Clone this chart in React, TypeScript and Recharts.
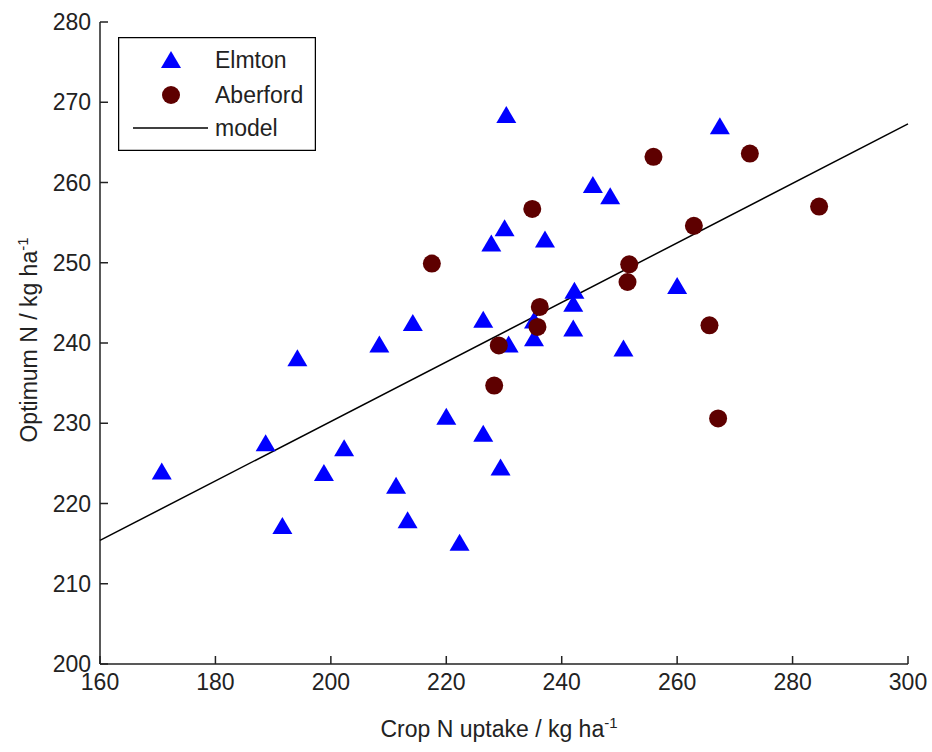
import { ScatterChart, Scatter, XAxis, YAxis, Legend, Label } from 'recharts';

// Elmton site (triangles)
const elmtonUptake = [
  170.7, 188.7, 191.6, 194.2, 198.8, 202.3, 208.4, 211.3, 213.3, 214.2,
  220.0, 222.3, 226.4, 226.4, 227.8, 229.4, 230.1, 230.4, 230.8, 235.2,
  235.2, 237.1, 242.0, 242.0, 242.2, 245.4, 248.4, 250.7, 260.0, 267.4,
];
const elmtonOptimum = [
  224.0, 227.5, 217.2, 238.1, 223.8, 226.9, 239.8, 222.2, 217.9, 242.5,
  230.8, 215.1, 228.7, 242.9, 252.4, 224.5, 254.3, 268.4, 239.8, 240.6,
  242.8, 252.9, 241.8, 244.9, 246.5, 259.7, 258.3, 239.3, 247.1, 267.0,
];

// Aberford site (circles)
const aberfordUptake = [
  217.5, 228.3, 229.1, 234.9, 235.8, 236.2, 251.4, 251.7, 255.9, 262.9,
  265.6, 267.1, 272.6, 284.6,
];
const aberfordOptimum = [
  249.9, 234.7, 239.7, 256.7, 242.0, 244.5, 247.6, 249.8, 263.2, 254.6,
  242.2, 230.6, 263.6, 257.0,
];

// fitted model line
const modelUptake = [160, 300];
const modelOptimum = [215.4, 267.3];

const xTicks = [160, 180, 200, 220, 240, 260, 280, 300];
const yTicks = [200, 210, 220, 230, 240, 250, 260, 270, 280];

const FONT = '"Liberation Sans", Arial, sans-serif';
const TEXT = '#222';
const BLUE = '#0000ff';
const MAROON = '#5e0000';

const zip = (xs: number[], ys: number[]) => xs.map((x, i) => ({ x, y: ys[i] }));

const Triangle = (props: any) => {
  const { cx, cy } = props;
  if (cx == null || cy == null) return <g />;
  return (
    <polygon
      points={`${cx},${cy - 9} ${cx - 10},${cy + 8} ${cx + 10},${cy + 8}`}
      fill={BLUE}
    />
  );
};

const Dot = (props: any) => {
  const { cx, cy } = props;
  if (cx == null || cy == null) return <g />;
  return <circle cx={cx} cy={cy} r={9} fill={MAROON} />;
};

const NoShape = () => <g />;

const LegendBox = () => (
  <svg width={198} height={114} style={{ display: 'block' }}>
    <rect x={0.5} y={0.5} width={197} height={113} fill="#fff" stroke="#000" strokeWidth={1.5} />
    <polygon points="53,14 43,31 63,31" fill={BLUE} />
    <circle cx={53} cy={58} r={9} fill={MAROON} />
    <line x1={15} x2={90} y1={91} y2={91} stroke="#000" strokeWidth={1.5} />
    <g fontFamily={FONT} fontSize={23} fill={TEXT}>
      <text x={97} y={23} dominantBaseline="central">Elmton</text>
      <text x={97} y={58} dominantBaseline="central">Aberford</text>
      <text x={97} y={91} dominantBaseline="central">model</text>
    </g>
  </svg>
);

const XTitle = (props: any) => {
  const vb = props.viewBox;
  const cx = vb.x + vb.width / 2 - 5;
  return (
    <text x={cx} y={vb.y + 73} textAnchor="middle" fontFamily={FONT} fontSize={23} fill={TEXT}>
      Crop N uptake / kg ha
      <tspan dy={-9} fontSize={15}>-1</tspan>
    </text>
  );
};

const YTitle = (props: any) => {
  const vb = props.viewBox;
  const x = vb.x + 37;
  const y = vb.y + vb.height / 2 - 3;
  return (
    <text
      x={x}
      y={y}
      textAnchor="middle"
      transform={`rotate(-90, ${x}, ${y})`}
      fontFamily={FONT}
      fontSize={23}
      fill={TEXT}
    >
      Optimum N / kg ha
      <tspan dy={-9} fontSize={15}>-1</tspan>
    </text>
  );
};

export default function App() {
  const tickStyle = { fill: TEXT, fontSize: 23, fontFamily: FONT };
  const axisStyle = { stroke: '#222', strokeWidth: 1.5 };

  return (
    <div style={{ position: 'absolute', left: 0, top: 0, width: 932, height: 752, background: '#fff' }}>
      <ScatterChart width={932} height={752} margin={{ top: 22, right: 24, left: 0, bottom: 0 }}>
        <XAxis
          type="number"
          dataKey="x"
          domain={[160, 300]}
          ticks={xTicks}
          height={88}
          tick={tickStyle}
          tickSize={-8}
          tickMargin={18}
          axisLine={axisStyle}
          tickLine={axisStyle}
        >
          <Label content={<XTitle />} />
        </XAxis>
        <YAxis
          type="number"
          dataKey="y"
          domain={[200, 280]}
          ticks={yTicks}
          width={100}
          tick={tickStyle}
          tickSize={-8}
          tickMargin={17}
          axisLine={axisStyle}
          tickLine={axisStyle}
        >
          <Label content={<YTitle />} />
        </YAxis>
        <Legend
          layout="horizontal"
          verticalAlign="middle"
          align="center"
          wrapperStyle={{ position: 'absolute', left: 118, top: 37, width: 198, height: 114 }}
          content={<LegendBox />}
        />
        <Scatter
          name="model"
          data={zip(modelUptake, modelOptimum)}
          line={{ stroke: '#000', strokeWidth: 1.5 }}
          shape={<NoShape />}
          isAnimationActive={false}
        />
        <Scatter
          name="Elmton"
          data={zip(elmtonUptake, elmtonOptimum)}
          shape={<Triangle />}
          isAnimationActive={false}
        />
        <Scatter
          name="Aberford"
          data={zip(aberfordUptake, aberfordOptimum)}
          shape={<Dot />}
          isAnimationActive={false}
        />
      </ScatterChart>
    </div>
  );
}
